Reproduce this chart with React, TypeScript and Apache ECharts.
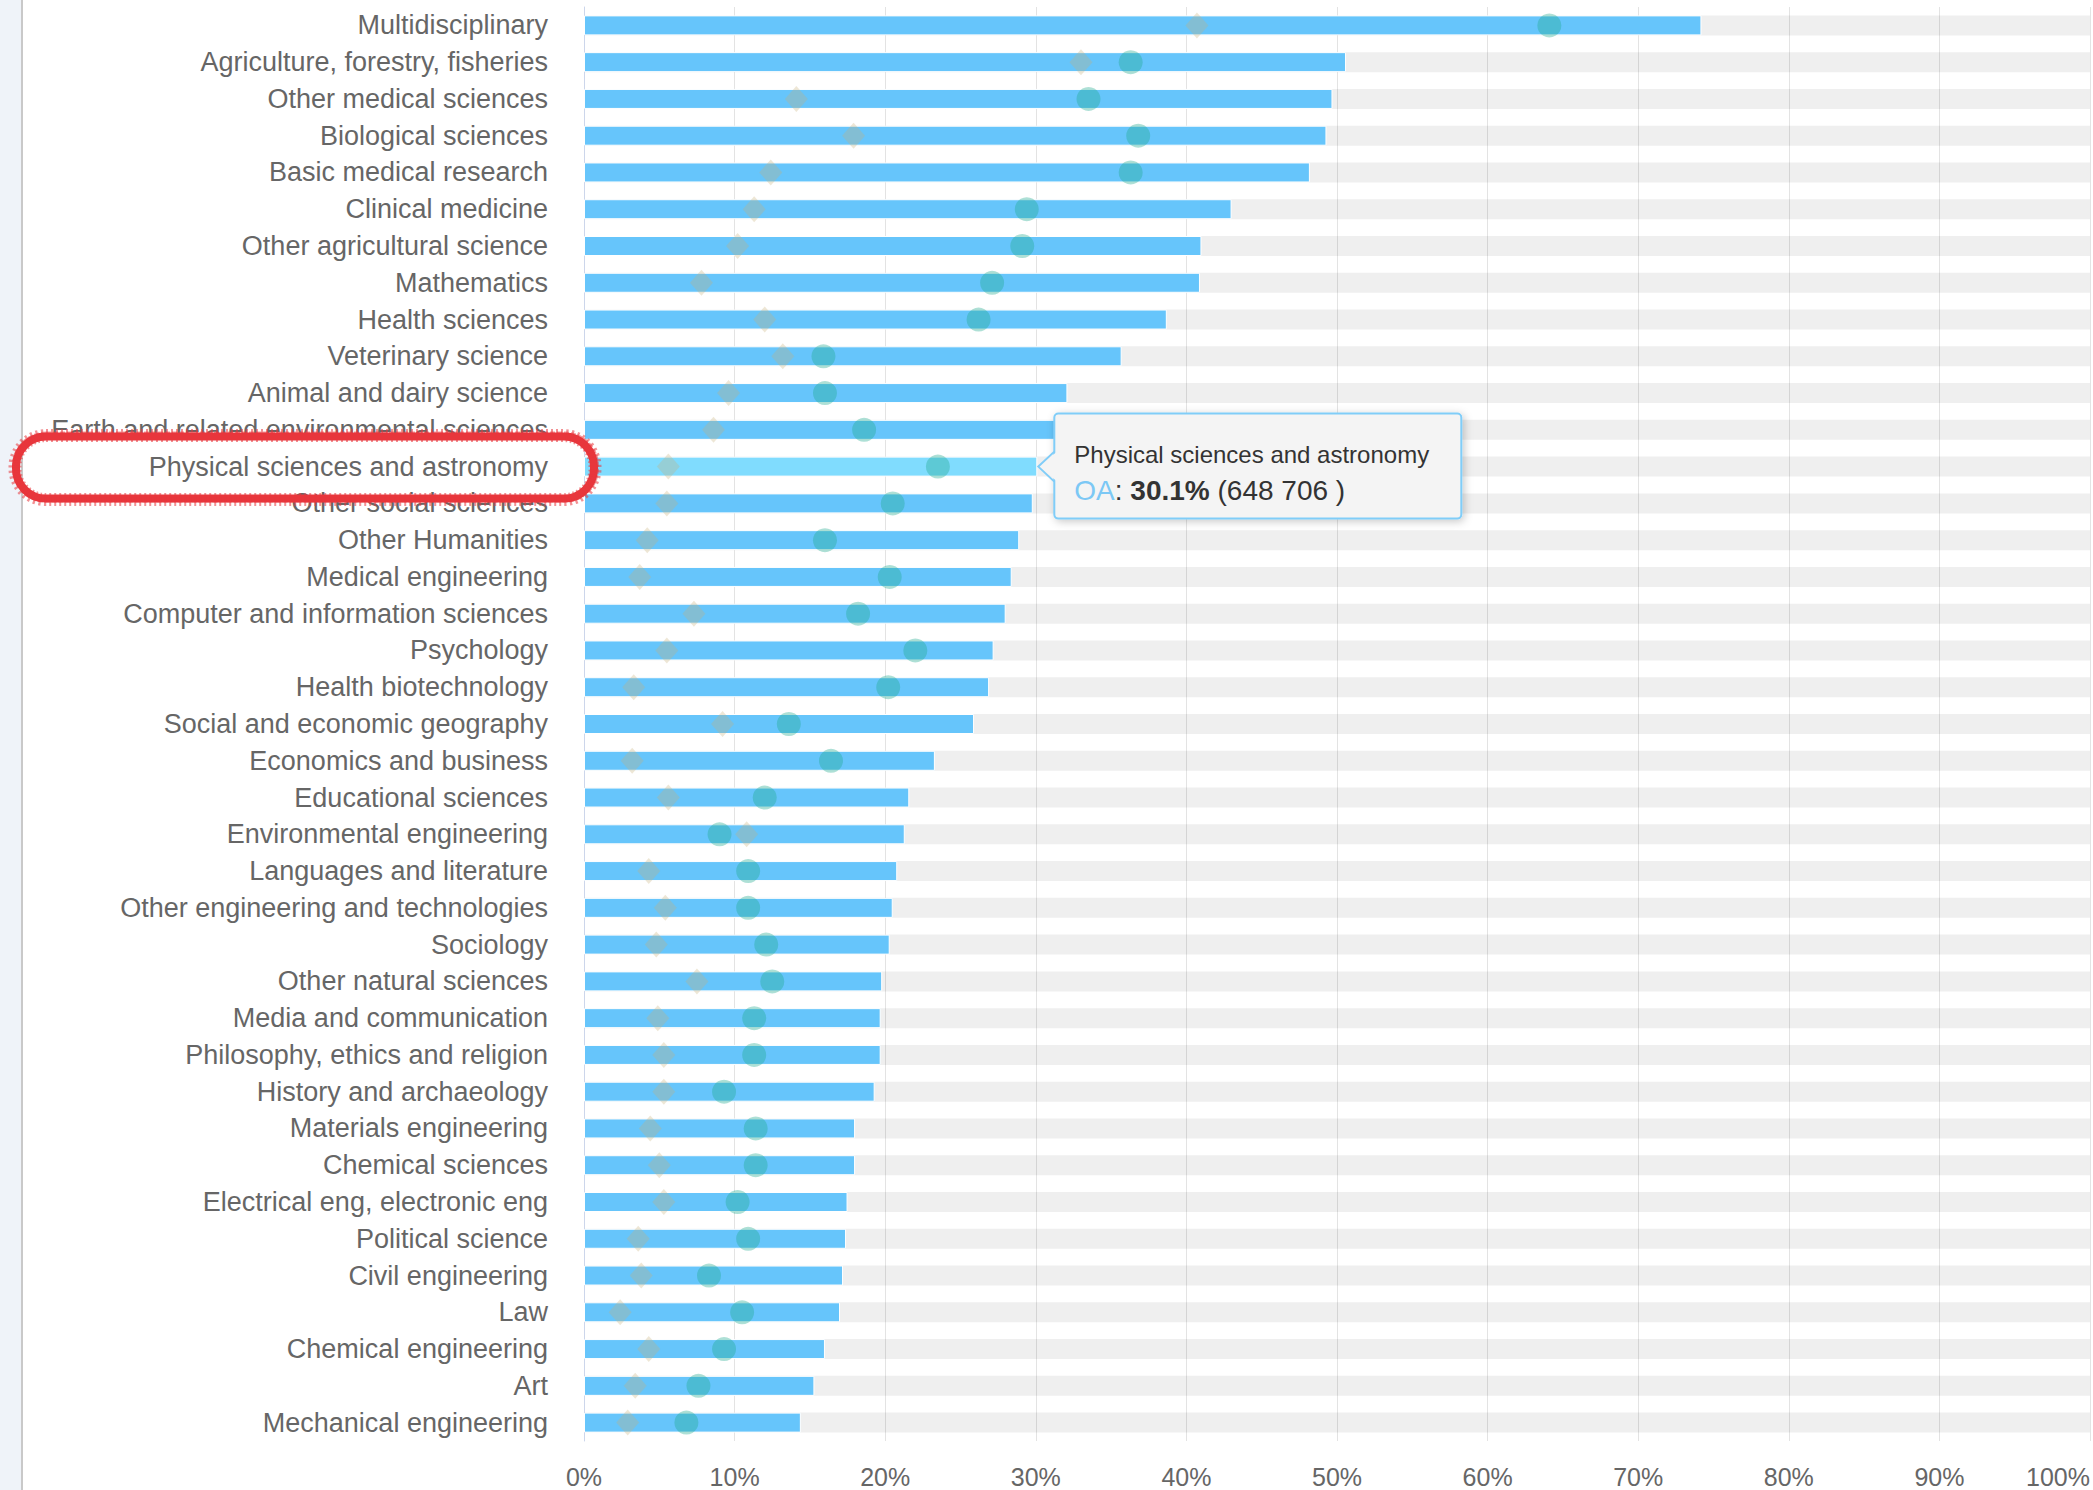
import React, { useEffect, useRef } from "react";
import * as echarts from "echarts";

const categories = [
  "Multidisciplinary",
  "Agriculture, forestry, fisheries",
  "Other medical sciences",
  "Biological sciences",
  "Basic medical research",
  "Clinical medicine",
  "Other agricultural science",
  "Mathematics",
  "Health sciences",
  "Veterinary science",
  "Animal and dairy science",
  "Earth and related environmental sciences",
  "Physical sciences and astronomy",
  "Other social sciences",
  "Other Humanities",
  "Medical engineering",
  "Computer and information sciences",
  "Psychology",
  "Health biotechnology",
  "Social and economic geography",
  "Economics and business",
  "Educational sciences",
  "Environmental engineering",
  "Languages and literature",
  "Other engineering and technologies",
  "Sociology",
  "Other natural sciences",
  "Media and communication",
  "Philosophy, ethics and religion",
  "History and archaeology",
  "Materials engineering",
  "Chemical sciences",
  "Electrical eng, electronic eng",
  "Political science",
  "Civil engineering",
  "Law",
  "Chemical engineering",
  "Art",
  "Mechanical engineering",
];

// OA share (%) - the blue bars
const oaShare = [
  74.2, 50.6, 49.7, 49.3, 48.2, 43.0, 41.0, 40.9, 38.7, 35.7, 32.1, 31.6, 30.1,
  29.8, 28.9, 28.4, 28.0, 27.2, 26.9, 25.9, 23.3, 21.6, 21.3, 20.8, 20.5, 20.3,
  19.8, 19.7, 19.7, 19.3, 18.0, 18.0, 17.5, 17.4, 17.2, 17.0, 16.0, 15.3, 14.4,
];

// Circle markers (%)
const circleValues = [
  64.1, 36.3, 33.5, 36.8, 36.3, 29.4, 29.1, 27.1, 26.2, 15.9, 16.0, 18.6, 23.5,
  20.5, 16.0, 20.3, 18.2, 22.0, 20.2, 13.6, 16.4, 12.0, 9.0, 10.9, 10.9, 12.1,
  12.5, 11.3, 11.3, 9.3, 11.4, 11.4, 10.2, 10.9, 8.3, 10.5, 9.3, 7.6, 6.8,
];

// Diamond markers (%)
const diamondValues = [
  40.7, 33.0, 14.1, 17.9, 12.4, 11.3, 10.2, 7.8, 12.0, 13.2, 9.6, 8.6, 5.6, 5.5,
  4.2, 3.7, 7.3, 5.5, 3.3, 9.2, 3.2, 5.6, 10.8, 4.3, 5.4, 4.8, 7.5, 4.9, 5.3,
  5.3, 4.4, 5.0, 5.3, 3.6, 3.8, 2.4, 4.3, 3.4, 2.9,
];

const xMin = 0;
const xMax = 100;
const xInterval = 10;

// hovered item shown in the tooltip
const highlightIndex = 12;
const highlightCount = "648 706";
const seriesName = "OA";

const FONT = "'Liberation Sans', Arial, Helvetica, sans-serif";
const BAR_COLOR = "#66c5fb";
const BAR_HOVER = "#80dcfe";

export default function App() {
  const ref = useRef<HTMLDivElement>(null);

  useEffect(() => {
    const chart = echarts.init(ref.current!, undefined, { renderer: "svg" });
    chart.setOption({
      animation: false,
      backgroundColor: "#ffffff",
      grid: { left: 584, right: 3, top: 7, bottom: 49, containLabel: false },
      xAxis: {
        type: "value",
        min: xMin,
        max: xMax,
        interval: xInterval,
        axisLine: { show: false },
        axisTick: { show: false },
        axisLabel: {
          formatter: "{value}%",
          fontSize: 25,
          color: "#666666",
          fontFamily: FONT,
          margin: 23,
          alignMaxLabel: "right",
        },
        splitLine: { show: true, lineStyle: { color: "#e3e3e3", width: 1 } },
      },
      yAxis: {
        type: "category",
        inverse: true,
        data: categories,
        axisTick: { show: false },
        axisLine: { show: true, lineStyle: { color: "#ccd6eb", width: 1 } },
        axisLabel: {
          fontSize: 27,
          color: "#666666",
          fontFamily: FONT,
          margin: 36,
        },
        splitLine: { show: false },
      },
      series: [
        {
          name: seriesName,
          type: "bar",
          barWidth: 20,
          showBackground: true,
          backgroundStyle: { color: "rgba(0,0,0,0.062)" },
          itemStyle: { color: BAR_COLOR, borderColor: "#ffffff", borderWidth: 1 },
          data: oaShare.map((v, i) =>
            i === highlightIndex ? { value: v, itemStyle: { color: BAR_HOVER } } : v
          ),
          z: 2,
        },
        {
          name: "Diamond",
          type: "scatter",
          symbol: "diamond",
          symbolSize: [23, 26],
          itemStyle: { color: "rgba(200,175,120,0.38)" },
          data: diamondValues.map((v, i) => [v, categories[i]]),
          z: 3,
        },
        {
          name: "Circle",
          type: "scatter",
          symbol: "circle",
          symbolSize: 24,
          itemStyle: { color: "rgba(30,170,140,0.45)" },
          data: circleValues.map((v, i) => [v, categories[i]]),
          z: 4,
        },
      ],
    });

    const [tx, ty] = chart.convertToPixel({ xAxisIndex: 0, yAxisIndex: 0 }, [
      oaShare[highlightIndex],
      categories[highlightIndex],
    ]) as number[];
    const [, ly] = chart.convertToPixel({ xAxisIndex: 0, yAxisIndex: 0 }, [
      0,
      categories[highlightIndex],
    ]) as number[];

    const boxX = tx + 17;
    const boxY = ty - 53;
    const boxW = 407;
    const boxH = 105;
    const tipBorder = "#80cdf8";
    const tipFill = "#f4f4f4";
    const red = "#e8363c";

    chart.setOption({
      graphic: [
        // left page strip
        { type: "rect", z: 50, shape: { x: 0, y: 0, width: 21, height: 1490 }, style: { fill: "#eff3f9" } },
        { type: "rect", z: 50, shape: { x: 21, y: 0, width: 2, height: 1490 }, style: { fill: "#c9c9c9" } },
        // tooltip box
        {
          type: "rect",
          z: 100,
          shape: { x: boxX, y: boxY, width: boxW, height: boxH, r: 4 },
          style: {
            fill: tipFill,
            stroke: tipBorder,
            lineWidth: 2,
            shadowBlur: 8,
            shadowOffsetX: 2,
            shadowOffsetY: 2,
            shadowColor: "rgba(0,0,0,0.22)",
          },
        },
        {
          type: "polygon",
          z: 101,
          shape: { points: [[boxX + 3, ty - 15], [tx + 1, ty], [boxX + 3, ty + 15]] },
          style: { fill: tipFill },
        },
        {
          type: "polyline",
          z: 102,
          shape: { points: [[boxX, ty - 15], [tx + 1, ty], [boxX, ty + 15]] },
          style: { stroke: tipBorder, lineWidth: 2, fill: "none" },
        },
        {
          type: "text",
          z: 103,
          style: {
            x: boxX + 20,
            y: ty - 12,
            text: categories[highlightIndex],
            font: `24px ${FONT}`,
            fill: "#333333",
            verticalAlign: "middle",
            align: "left",
          },
        },
        {
          type: "text",
          z: 103,
          style: {
            x: boxX + 20,
            y: ty + 24,
            text: `{a|${seriesName}}{n|: }{b|${oaShare[highlightIndex].toFixed(1)}%}{n| (${highlightCount} )}`,
            verticalAlign: "middle",
            align: "left",
            rich: {
              a: { fill: "#7cc8f5", fontSize: 28, fontFamily: FONT },
              n: { fill: "#333333", fontSize: 28, fontFamily: FONT },
              b: { fill: "#333333", fontSize: 28, fontFamily: FONT, fontWeight: "bold" },
            },
          },
        },
        // red hand-drawn annotation around the category label
        {
          type: "rect",
          z: 120,
          shape: { x: 16, y: ly - 30, width: 578, height: 62, r: 30 },
          style: { fill: "none", stroke: red, lineWidth: 8 },
        },
        {
          type: "rect",
          z: 121,
          shape: { x: 15, y: ly - 31, width: 580, height: 64, r: 31 },
          style: { fill: "none", stroke: "rgba(232,54,60,0.55)", lineWidth: 13, lineDash: [2, 3] },
        },
        {
          type: "rect",
          z: 121,
          shape: { x: 13, y: ly - 34, width: 585, height: 69, r: 33 },
          style: { fill: "none", stroke: "rgba(232,54,60,0.5)", lineWidth: 2, lineDash: [5, 2] },
        },
      ],
    });

    return () => chart.dispose();
  }, []);

  return (
    <div
      ref={ref}
      style={{ position: "absolute", left: 0, top: 0, width: 2093, height: 1490, background: "#fff" }}
    />
  );
}
